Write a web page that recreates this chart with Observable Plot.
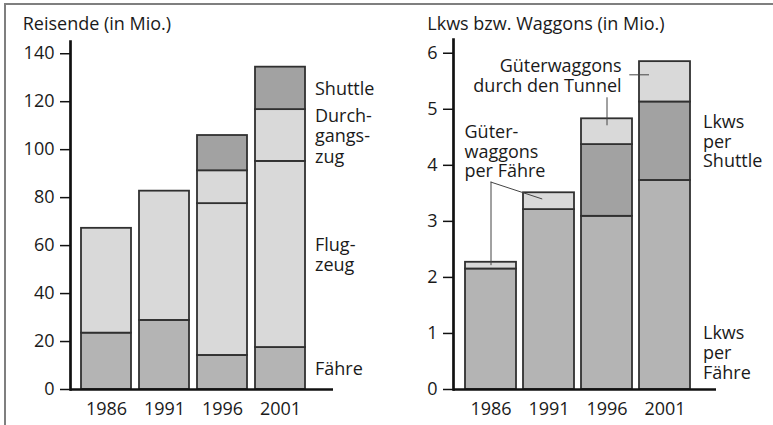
<!DOCTYPE html>
<html>
<head>
<meta charset="utf-8">
<script src="https://cdn.jsdelivr.net/npm/d3@7"></script>
<script src="https://cdn.jsdelivr.net/npm/@observablehq/plot@0.6"></script>
<style>
  body { margin: 0; background: #fff; }
  #wrap { position: relative; width: 773px; height: 425px; overflow: hidden; font-family: "Open Sans", sans-serif; color: #1a1a1a; }
  #border { position: absolute; left: 4px; top: 2.5px; width: 800px; height: 450px; border-top: 2.6px solid #7f7f7f; border-left: 2.7px solid #7f7f7f; }
  .title { position: absolute; font-size: 18px; line-height: 1; white-space: nowrap; }
  #left { position: absolute; left: 0; top: 0; }
  #right { position: absolute; left: 386px; top: 0; }
</style>
</head>
<body>
<div id="wrap">
  <div id="border"></div>
  <div id="left"></div>
  <div id="right"></div>
  <div class="title" style="left:22.7px; top:13.5px;">Reisende (in Mio.)</div>
  <div class="title" style="left:427.3px; top:13.5px;">Lkws bzw. Waggons (in Mio.)</div>
</div>
<script>
// ---------- data ----------
const years = ["1986", "1991", "1996", "2001"];

// Left panel: Reisende (in Mio.)
const passengerSeries = ["Fähre", "Flugzeug", "Durchgangszug", "Shuttle"];
const passengerLabels = ["Fähre", "Flug-\nzeug", "Durch-\ngangs-\nzug", "Shuttle"];
const faehre        = [23.5, 28.8, 14.2, 17.5];
const flugzeug      = [43.7, 53.9, 63.3, 77.6];
const durchgangszug = [null, null, 13.7, 21.6];
const shuttle       = [null, null, 14.7, 17.7];
const passengerTicks = [0, 20, 40, 60, 80, 100, 120, 140];
const passengerColors = ["#b4b4b4", "#d9d9d9", "#d9d9d9", "#a2a2a2"];

// Right panel: Lkws bzw. Waggons (in Mio.)
const freightSeries = ["Lkws per Fähre", "Lkws per Shuttle", "Güterwaggons per Fähre", "Güterwaggons durch den Tunnel"];
const lkwFaehre    = [2.15, 3.21, 3.09, 3.73];
const lkwShuttle   = [null, null, 1.28, 1.40];
const waggonFaehre = [0.12, 0.30, null, null];
const waggonTunnel = [null, null, 0.46, 0.72];
const freightTicks = [0, 1, 2, 3, 4, 5, 6];
const freightColors = ["#b4b4b4", "#a2a2a2", "#d9d9d9", "#d9d9d9"];

// ---------- helpers ----------
function stackRows(names, arrays) {
  const rows = [];
  years.forEach((year, i) => {
    let base = 0;
    names.forEach((s, k) => {
      const v = arrays[k][i];
      if (v == null) return;
      rows.push({year, series: s, value: v, lo: base, hi: base + v, mid: base + v / 2});
      base += v;
    });
  });
  return rows;
}
const pRows = stackRows(passengerSeries, [faehre, flugzeug, durchgangszug, shuttle]);
const fRows = stackRows(freightSeries, [lkwFaehre, lkwShuttle, waggonFaehre, waggonTunnel]);
const pick = (rows, year, series) => rows.filter(d => d.year === year && d.series === series);

const ink = "#1a1a1a";
const baseStyle = {fontFamily: "Open Sans", fontSize: "18px", color: ink, background: "transparent", overflow: "visible"};

// ---------- left chart ----------
const left = Plot.plot({
  width: 386, height: 425,
  marginLeft: 70, marginRight: 53, marginTop: 41, marginBottom: 36,
  style: baseStyle,
  x: {domain: years, paddingInner: 0.1307, paddingOuter: 0.307, align: 0.278, label: null},
  y: {domain: [0, 145.1], label: null},
  color: {domain: passengerSeries, range: passengerColors},
  marks: [
    Plot.barY(pRows, {x: "year", y1: "lo", y2: "hi", fill: "series", stroke: "#303030", strokeWidth: 1.8}),
    Plot.ruleY([0], {stroke: "#111", strokeWidth: 2.7}),
    Plot.frame({anchor: "left", stroke: "#111", strokeWidth: 2.7}),
    Plot.axisY(passengerTicks, {tickSize: 10, tickPadding: 6, tickFormat: d3.format("d"), label: null, stroke: "#111", strokeWidth: 1.5, fill: ink}),
    Plot.axisX({tickSize: 0, tickPadding: 13, label: null, fill: ink}),
    Plot.text(pRows.filter(d => d.year === "2001"), {
      x: "year", y: "mid",
      text: d => passengerLabels[passengerSeries.indexOf(d.series)],
      textAnchor: "start", dx: 34.5, lineHeight: 1.14, fill: ink
    })
  ]
});
document.getElementById("left").appendChild(left);

// ---------- right chart ----------
const top1991 = pick(fRows, "1991", "Güterwaggons per Fähre")[0].hi;
const right = Plot.plot({
  width: 387, height: 425,
  marginLeft: 67, marginRight: 57, marginTop: 39, marginBottom: 36,
  style: baseStyle,
  x: {domain: years, paddingInner: 0.126, paddingOuter: 0.296, align: 0.316, label: null},
  y: {domain: [0, 6.245], label: null},
  color: {domain: freightSeries, range: freightColors},
  marks: [
    Plot.barY(fRows, {x: "year", y1: "lo", y2: "hi", fill: "series", stroke: "#303030", strokeWidth: 1.8}),
    Plot.ruleY([0], {stroke: "#111", strokeWidth: 2.7}),
    Plot.frame({anchor: "left", stroke: "#111", strokeWidth: 2.7}),
    Plot.axisY(freightTicks, {tickSize: 10, tickPadding: 6, tickFormat: d3.format("d"), label: null, stroke: "#111", strokeWidth: 1.5, fill: ink}),
    Plot.axisX({tickSize: 0, tickPadding: 13, label: null, fill: ink}),
    // series labels at the right
    Plot.text(pick(fRows, "2001", "Lkws per Shuttle"), {
      x: "year", y: "mid", text: () => "Lkws\nper\nShuttle",
      textAnchor: "start", dx: 38, lineHeight: 1.1, fill: ink
    }),
    Plot.text(pick(fRows, "2001", "Lkws per Fähre"), {
      x: "year", y: "lo", text: () => "Lkws\nper\nFähre",
      textAnchor: "start", lineAnchor: "bottom", dx: 38, dy: -10.6, lineHeight: 1.1, fill: ink
    }),
    // Güterwaggons durch den Tunnel
    Plot.text(pick(fRows, "2001", "Güterwaggons durch den Tunnel"), {
      x: "year", y: "hi", text: () => "Güterwaggons\ndurch den Tunnel",
      textAnchor: "end", dx: -43.4, dy: 14, lineHeight: 1.1, fill: ink
    }),
    Plot.ruleY(pick(fRows, "2001", "Güterwaggons durch den Tunnel"), {
      x1: "year", x2: "year", y: "mid", insetLeft: -9.7, insetRight: 41, dy: -7, stroke: "#444", strokeWidth: 1
    }),
    Plot.ruleX(pick(fRows, "1996", "Güterwaggons durch den Tunnel"), {
      x: "year", y1: "hi", y2: "hi", insetTop: -21, insetBottom: -7, stroke: "#444", strokeWidth: 1
    }),
    // Güterwaggons per Fähre
    Plot.text(pick(fRows, "1986", "Güterwaggons per Fähre"), {
      x: "year", y: () => top1991, text: () => "Güter-\nwaggons\nper Fähre",
      textAnchor: "start", lineAnchor: "bottom", dx: -26.5, dy: -15.9, lineHeight: 1.07, fill: ink
    }),
    Plot.ruleX(pick(fRows, "1986", "Güterwaggons per Fähre"), {
      x: "year", y1: () => top1991, y2: "mid", insetTop: -10.6, stroke: "#444", strokeWidth: 1
    }),
    Plot.arrow(pick(fRows, "1991", "Güterwaggons per Fähre"), {
      x1: () => "1986", y1: d => d.hi + 0.19, x2: "year", y2: "mid",
      headLength: 0, insetEnd: 7.5, stroke: "#444", strokeWidth: 1
    })
  ]
});
document.getElementById("right").appendChild(right);
</script>
</body>
</html>
